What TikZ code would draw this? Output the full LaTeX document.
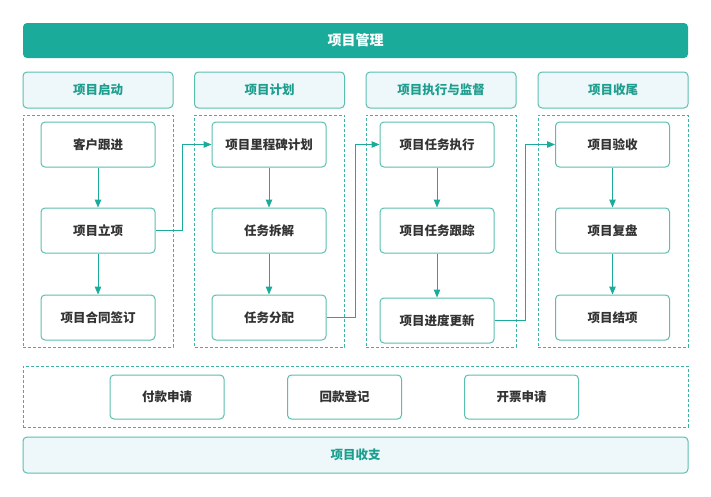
\documentclass[tikz,border=0pt]{standalone}
\usepackage{fontspec}
\setmainfont{Noto Sans CJK SC}
\usetikzlibrary{arrows.meta}
\definecolor{tealbar}{HTML}{1AAB9B}
\definecolor{tealline}{HTML}{5BBFB0}
\definecolor{tealdash}{HTML}{3FB3A3}
\definecolor{tealtext}{HTML}{1E9E8E}
\definecolor{headfill}{HTML}{EEF8FA}
\definecolor{boxtext}{HTML}{333333}

\begin{document}
\begin{tikzpicture}[x=1pt,y=-1pt,
	every node/.style={font=\fontsize{12.5}{14}\selectfont\bfseries},
	task/.style={draw=tealline,line width=1pt,rounded corners=4pt,fill=white,
		text=boxtext,minimum width=114pt,minimum height=45pt},
	phase/.style={draw=tealline,line width=1pt,rounded corners=4pt,fill=headfill,
		text=tealtext,minimum width=150pt,minimum height=36pt},
	group/.style={draw=tealdash,line width=0.8pt,dash pattern=on 3pt off 2pt,
		minimum width=150pt,minimum height=232pt},
	flow/.style={draw=tealbar,line width=1pt,-{Triangle[length=8pt,width=6.5pt]}}]
	\useasboundingbox (0,0) rectangle (711,496);
	\fill[white] (0,0) rectangle (711,496);

	\node[fill=tealbar,text=white,rounded corners=4pt,minimum width=665pt,minimum height=35pt,
		font=\fontsize{14}{16}\selectfont\bfseries] (top) at (355.5,40.5) {项目管理};

	\node[phase] (h1) at (98,90) {项目启动};
	\node[phase] (h2) at (269.5,90) {项目计划};
	\node[phase] (h3) at (441,90) {项目执行与监督};
	\node[phase] (h4) at (613,90) {项目收尾};

	\node[group] (g1) at (98,231) {};
	\node[group] (g2) at (269.5,231) {};
	\node[group] (g3) at (441,231) {};
	\node[group] (g4) at (613,231) {};

	\node[task] (a1) at (98,144.5) {客户跟进};
	\node[task] (a2) at (98,230.5) {项目立项};
	\node[task] (a3) at (98,317.5) {项目合同签订};

	\node[task] (b1) at (269,144.5) {项目里程碑计划};
	\node[task] (b2) at (269,230.5) {任务拆解};
	\node[task] (b3) at (269,317.5) {任务分配};

	\node[task] (c1) at (437,144.5) {项目任务执行};
	\node[task] (c2) at (437,230.5) {项目任务跟踪};
	\node[task] (c3) at (437,320.5) {项目进度更新};

	\node[task] (d1) at (612.5,144.5) {项目验收};
	\node[task] (d2) at (612.5,230.5) {项目复盘};
	\node[task] (d3) at (612.5,317.5) {项目结项};

	\draw[flow] (a1) -- (a2);
	\draw[flow] (a2) -- (a3);
	\draw[flow] (b1) -- (b2);
	\draw[flow] (b2) -- (b3);
	\draw[flow] (c1) -- (c2);
	\draw[flow] (c2) -- (c3);
	\draw[flow] (d1) -- (d2);
	\draw[flow] (d2) -- (d3);

	\draw[flow] (a2.east) -- ++(27,0) |- (b1.west);
	\draw[flow] (b3.east) -- ++(29,0) |- (c1.west);
	\draw[flow] (c3.east) -- ++(31,0) |- (d1.west);

	\node[group,minimum width=665pt,minimum height=61pt] (money) at (355.5,396.5) {};
	\node[task,minimum height=44pt] (p1) at (167,397) {付款申请};
	\node[task,minimum height=44pt] (p2) at (344.5,397) {回款登记};
	\node[task,minimum height=44pt] (p3) at (521.5,397) {开票申请};

	\node[phase,minimum width=665pt] (bottom) at (355.5,455) {项目收支};
\end{tikzpicture}
\end{document}
